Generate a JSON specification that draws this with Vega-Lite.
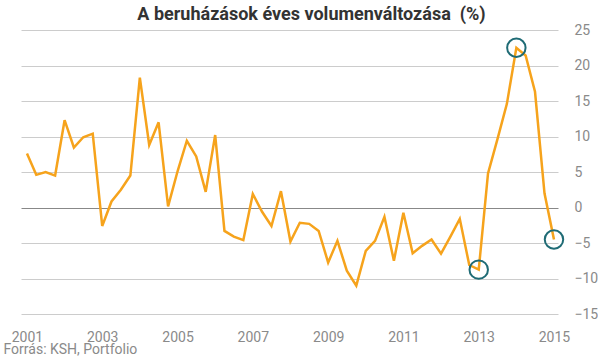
{
  "$schema": "https://vega.github.io/schema/vega-lite/v6.json",
  "width": 537,
  "height": 284,
  "autosize": {"type": "none"},
  "padding": {"left": 21, "top": 30, "right": 40, "bottom": 50},
  "background": "white",
  "config": {
    "view": {"stroke": null},
    "font": "Roboto"
  },
  "title": {
    "text": "A beruházások éves volumenváltozása \u00a0(%)",
    "font": "Roboto",
    "fontSize": 18,
    "fontWeight": "bold",
    "color": "#333333",
    "anchor": "middle",
    "offset": 4,
    "dx": 22,
    "dy": 5
  },
  "datasets": {
    "series": [
      {"date": "2001-01-01", "value": 7.6},
      {"date": "2001-04-01", "value": 4.6},
      {"date": "2001-07-01", "value": 5.0},
      {"date": "2001-10-01", "value": 4.5},
      {"date": "2002-01-01", "value": 12.3},
      {"date": "2002-04-01", "value": 8.45},
      {"date": "2002-07-01", "value": 9.9},
      {"date": "2002-10-01", "value": 10.4},
      {"date": "2003-01-01", "value": -2.6},
      {"date": "2003-04-01", "value": 0.85},
      {"date": "2003-07-01", "value": 2.5},
      {"date": "2003-10-01", "value": 4.5},
      {"date": "2004-01-01", "value": 18.3},
      {"date": "2004-04-01", "value": 8.8},
      {"date": "2004-07-01", "value": 12.0},
      {"date": "2004-10-01", "value": 0.15},
      {"date": "2005-01-01", "value": 5.1},
      {"date": "2005-04-01", "value": 9.4},
      {"date": "2005-07-01", "value": 7.2},
      {"date": "2005-10-01", "value": 2.2},
      {"date": "2006-01-01", "value": 10.2},
      {"date": "2006-04-01", "value": -3.3},
      {"date": "2006-07-01", "value": -4.1},
      {"date": "2006-10-01", "value": -4.6},
      {"date": "2007-01-01", "value": 1.9},
      {"date": "2007-04-01", "value": -0.6},
      {"date": "2007-07-01", "value": -2.6},
      {"date": "2007-10-01", "value": 2.3},
      {"date": "2008-01-01", "value": -4.8},
      {"date": "2008-04-01", "value": -2.15},
      {"date": "2008-07-01", "value": -2.3},
      {"date": "2008-10-01", "value": -3.3},
      {"date": "2009-01-01", "value": -7.75},
      {"date": "2009-04-01", "value": -4.7},
      {"date": "2009-07-01", "value": -8.9},
      {"date": "2009-10-01", "value": -11.0},
      {"date": "2010-01-01", "value": -6.1},
      {"date": "2010-04-01", "value": -4.7},
      {"date": "2010-07-01", "value": -1.3},
      {"date": "2010-10-01", "value": -7.5},
      {"date": "2011-01-01", "value": -0.75},
      {"date": "2011-04-01", "value": -6.45},
      {"date": "2011-07-01", "value": -5.4},
      {"date": "2011-10-01", "value": -4.5},
      {"date": "2012-01-01", "value": -6.5},
      {"date": "2012-04-01", "value": -4.1},
      {"date": "2012-07-01", "value": -1.6},
      {"date": "2012-10-01", "value": -8.1},
      {"date": "2013-01-01", "value": -8.75},
      {"date": "2013-04-01", "value": 4.8},
      {"date": "2013-07-01", "value": 9.6},
      {"date": "2013-10-01", "value": 14.6},
      {"date": "2014-01-01", "value": 22.5},
      {"date": "2014-04-01", "value": 21.4},
      {"date": "2014-07-01", "value": 16.3},
      {"date": "2014-10-01", "value": 2.0},
      {"date": "2015-01-01", "value": -4.5}
    ],
    "marked": [
      {"date": "2013-01-01", "value": -8.75},
      {"date": "2014-01-01", "value": 22.5},
      {"date": "2015-01-01", "value": -4.5}
    ]
  },
  "data": {"name": "series"},
  "encoding": {
    "x": {
      "field": "date",
      "type": "temporal",
      "scale": {
        "type": "utc",
        "domain": [
          {"year": 2000, "month": 11, "date": 4, "utc": true},
          {"year": 2015, "month": 2, "date": 9, "utc": true}
        ]
      },
      "axis": {
        "values": [
          {"year": 2001, "utc": true},
          {"year": 2003, "utc": true},
          {"year": 2005, "utc": true},
          {"year": 2007, "utc": true},
          {"year": 2009, "utc": true},
          {"year": 2011, "utc": true},
          {"year": 2013, "utc": true},
          {"year": 2015, "utc": true}
        ],
        "format": "%Y",
        "formatType": "utc",
        "grid": false,
        "domain": false,
        "ticks": false,
        "tickSize": 0,
        "labelPadding": 16,
        "labelFont": "Roboto",
        "labelFontSize": 14,
        "labelColor": "#8a8a8a",
        "labelFlush": false,
        "labelOverlap": false,
        "title": "Forrás: KSH, Portfolio",
        "titleFont": "Roboto",
        "titleFontSize": 14,
        "titleFontWeight": "normal",
        "titleColor": "#8a8a8a",
        "titleAnchor": "start",
        "titleAlign": "left",
        "titleBaseline": "alphabetic",
        "titleX": -18,
        "titleY": 39
      }
    },
    "y": {
      "field": "value",
      "type": "quantitative",
      "scale": {"domain": [-15, 25], "nice": false, "zero": false},
      "axis": {
        "orient": "right",
        "values": [-15, -10, -5, 0, 5, 10, 15, 20, 25],
        "grid": true,
        "gridColor": {"condition": {"test": "datum.value === 0", "value": "#888888"}, "value": "#cccccc"},
        "gridWidth": 1,
        "domain": false,
        "ticks": false,
        "tickSize": 0,
        "labelPadding": 16,
        "labelFont": "Roboto",
        "labelFontSize": 14,
        "labelColor": "#8a8a8a",
        "labelFlush": false,
        "labelOverlap": false,
        "title": null
      }
    }
  },
  "layer": [
    {
      "mark": {"type": "line", "color": "#F6A31C", "strokeWidth": 2.5, "strokeJoin": "miter"}
    },
    {
      "data": {"name": "marked"},
      "mark": {"type": "point", "shape": "circle", "filled": false, "size": 340, "stroke": "#1F6B75", "strokeWidth": 2, "opacity": 1}
    }
  ]
}
